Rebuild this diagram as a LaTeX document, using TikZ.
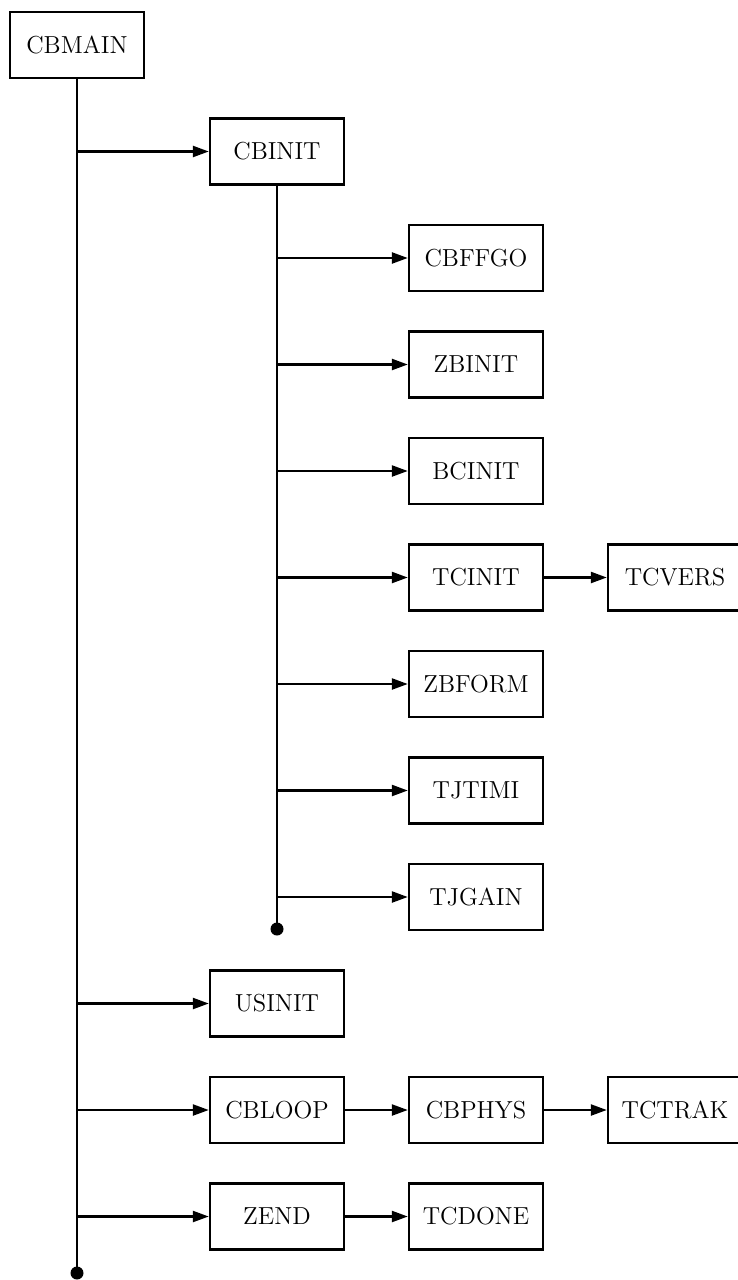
\documentclass[tikz,border=0pt]{standalone}
\usetikzlibrary{arrows.meta}
\begin{document}
\begin{tikzpicture}[x=0.5pt,y=-0.5pt,
  box/.style={draw,line width=1.2pt,minimum width=67pt,minimum height=33pt,inner sep=0pt,font=\fontsize{12.3}{14}\selectfont},
  link/.style={line width=1.2pt,-{Triangle[length=8pt,width=5.5pt]}},
  trunk/.style={line width=1.2pt},
  enddot/.style={circle,fill=black,inner sep=0pt,minimum size=6.5pt}]
\useasboundingbox (0,0) rectangle (738,1280);
% main column
\node[box] (cbmain) at (77,45) {CBMAIN};
\node[box] (cbinit) at (277,151.5) {CBINIT};
\node[box] (cbffgo) at (476,258) {CBFFGO};
\node[box] (zbinit) at (476,364.5) {ZBINIT};
\node[box] (bcinit) at (476,471) {BCINIT};
\node[box] (tcinit) at (476,577.5) {TCINIT};
\node[box] (tcvers) at (675,577.5) {TCVERS};
\node[box] (zbform) at (476,684) {ZBFORM};
\node[box] (tjtimi) at (476,790.5) {TJTIMI};
\node[box] (tjgain) at (476,897) {TJGAIN};
\node[box] (usinit) at (277,1003.5) {USINIT};
\node[box] (cbloop) at (277,1110) {CBLOOP};
\node[box] (cbphys) at (476,1110) {CBPHYS};
\node[box] (tctrak) at (675,1110) {TCTRAK};
\node[box] (zend) at (277,1216.5) {ZEND};
\node[box] (tcdone) at (476,1216.5) {TCDONE};
% end dots
\node[enddot] (d1) at (277,929) {};
\node[enddot] (d0) at (77,1273) {};
% trunks
\draw[trunk] (cbmain.south) -- (d0.center);
\draw[trunk] (cbinit.south) -- (d1.center);
% branches from main trunk
\draw[link] (cbmain.south |- cbinit.west) -- (cbinit.west);
\draw[link] (cbmain.south |- usinit.west) -- (usinit.west);
\draw[link] (cbmain.south |- cbloop.west) -- (cbloop.west);
\draw[link] (cbmain.south |- zend.west) -- (zend.west);
% branches from CBINIT trunk
\foreach \n in {cbffgo,zbinit,bcinit,tcinit,zbform,tjtimi,tjgain}
  \draw[link] (cbinit.south |- \n.west) -- (\n.west);
% chains
\draw[link] (tcinit.east) -- (tcvers.west);
\draw[link] (cbloop.east) -- (cbphys.west);
\draw[link] (cbphys.east) -- (tctrak.west);
\draw[link] (zend.east) -- (tcdone.west);
\end{tikzpicture}
\end{document}
